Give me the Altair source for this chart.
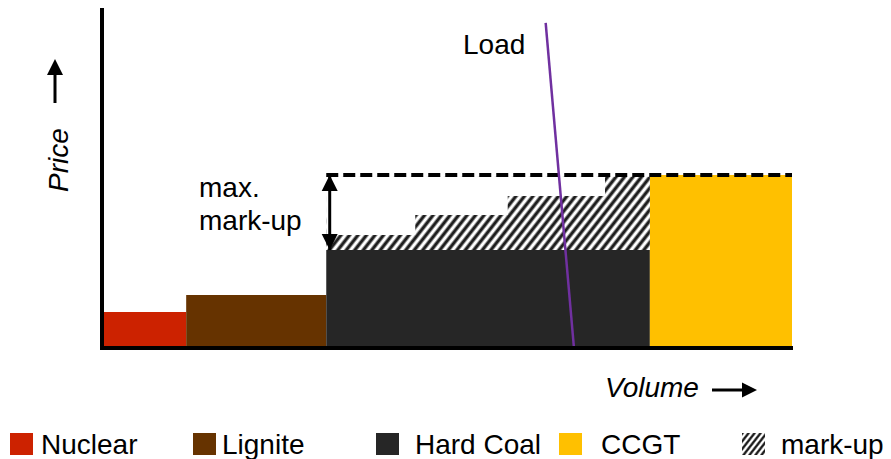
import math
import altair as alt
import pandas as pd

# ---------------- data ----------------
plants = ["Nuclear", "Lignite", "Hard Coal", "CCGT"]
cap_start = [0.0, 12.2, 32.5, 79.4]          # cumulative volume where each block starts
cap_end = [12.2, 32.5, 79.4, 100.0]          # cumulative volume where each block ends
marginal_cost = [10.6, 15.6, 28.8, 50.9]     # price level of each block
plant_colors = ["#CC2200", "#663300", "#262626", "#FFC000"]

markup_start = [32.5, 45.4, 58.8, 72.9]
markup_end = [45.4, 58.8, 72.9, 79.4]
markup_price = [33.2, 39.1, 44.7, 50.4]

load_volume = [64.3, 68.4]
load_price = [95.6, 0.0]

legend_labels = ["Nuclear", "Lignite", "Hard Coal", "CCGT", "mark-up"]

# ---------------- layout / style ----------------
W, H = 690, 340            # plot area in px
OX, OY = 102, 8            # page position of plot area's top-left corner
FONT = "Liberation Sans"
FS = 28
DARK, LIGHT = "#1e1e1e", "#ffffff"

legend_square_x = [10, 193, 376, 559, 742]
legend_text_x = [41, 222, 415, 601, 781]


def px(v):
    return v - OX


def py(v):
    return v - OY


def hatch(wp, hp, period=8.5, theta=52):
    s, c = math.sin(math.radians(theta)), math.cos(math.radians(theta))
    M = wp * s + hp * c
    D = (wp * s) ** 2 + (hp * c) ** 2
    k = M / D
    a, b = wp * s * k, hp * c * k
    n = M / (period * s)
    pattern = [(0.0, DARK), (0.22, DARK), (0.5, LIGHT), (0.72, LIGHT)]
    stops = []
    i = 0
    while i <= n + 1:
        for frac, col in pattern:
            off = (i + frac) / n
            if off <= 1:
                stops.append({"offset": round(off, 5), "color": col})
        i += 1
    return {"gradient": "linear", "x1": 0, "y1": 0, "x2": a, "y2": b, "stops": stops}


xs = alt.Scale(domain=[0, 100], nice=False, zero=False)
ys = alt.Scale(domain=[0, 100], nice=False, zero=False)
one = pd.DataFrame({"k": [0]})

# ---------------- supply blocks ----------------
bars_df = pd.DataFrame({"plant": plants, "x0": cap_start, "x1": cap_end,
                        "price": marginal_cost, "base": [0.0] * 4})
bars = alt.Chart(bars_df).mark_rect().encode(
    x=alt.X("x0:Q", scale=xs, axis=None), x2="x1",
    y=alt.Y("price:Q", scale=ys, axis=None), y2="base",
    color=alt.Color("plant:N", scale=alt.Scale(domain=plants, range=plant_colors), legend=None),
)

# ---------------- mark-up (hatched) ----------------
mk_top = max(markup_price)
hatch_df = pd.DataFrame({"x0": [markup_start[0]], "x1": [markup_end[-1]],
                         "y0": [marginal_cost[2]], "y1": [mk_top]})
wp = (markup_end[-1] - markup_start[0]) * W / 100
hp = (mk_top - marginal_cost[2]) * H / 100
hatch_bg = alt.Chart(hatch_df).mark_rect(color=hatch(wp, hp)).encode(
    x=alt.X("x0:Q", scale=xs), x2="x1", y=alt.Y("y0:Q", scale=ys), y2="y1")

# white covers above each mark-up step (all start at the left edge, so no seams)
cover_df = pd.DataFrame({"x0": [markup_start[0]] * len(markup_end), "x1": markup_end,
                         "y0": markup_price, "y1": [mk_top] * len(markup_price)})
covers = alt.Chart(cover_df).mark_rect(color="white").encode(
    x=alt.X("x0:Q", scale=xs), x2="x1", y=alt.Y("y0:Q", scale=ys), y2="y1")

# ---------------- max level dashed line & arrow ----------------
dash_df = pd.DataFrame({"x0": [cap_start[2]], "x1": [cap_end[3]], "y": [marginal_cost[3]]})
dash = alt.Chart(dash_df).mark_rule(color="black", strokeWidth=4, strokeDash=[12, 5]).encode(
    x=alt.X("x0:Q", scale=xs), x2="x1", y=alt.Y("y:Q", scale=ys))

arrow_df = pd.DataFrame({"x": [33.0], "y0": [marginal_cost[2]], "y1": [marginal_cost[3]]})
shaft = alt.Chart(arrow_df).mark_rule(color="black", strokeWidth=3).encode(
    x=alt.X("x:Q", scale=xs), y=alt.Y("y0:Q", scale=ys), y2="y1")
head_up = alt.Chart(arrow_df).mark_point(shape="M0,0L1,2L-1,2Z", filled=True, opacity=1,
                                         color="black", size=256, strokeWidth=0).encode(
    x=alt.X("x:Q", scale=xs), y=alt.Y("y1:Q", scale=ys))
head_dn = alt.Chart(arrow_df).mark_point(shape="M0,0L1,-2L-1,-2Z", filled=True, opacity=1,
                                         color="black", size=256, strokeWidth=0).encode(
    x=alt.X("x:Q", scale=xs), y=alt.Y("y0:Q", scale=ys))

# ---------------- load ----------------
load_df = pd.DataFrame({"v": load_volume, "p": load_price, "o": [0, 1]})
load = alt.Chart(load_df).mark_line(color="#7030A0", strokeWidth=2.5).encode(
    x=alt.X("v:Q", scale=xs), y=alt.Y("p:Q", scale=ys), order="o:O")

# ---------------- axes lines ----------------
yaxis = alt.Chart(one).mark_rule(color="black", strokeWidth=4).encode(
    x=alt.value(0), y=alt.value(0), y2=alt.value(H + 2))
xaxis = alt.Chart(one).mark_rule(color="black", strokeWidth=4).encode(
    x=alt.value(-2), x2=alt.value(W + 1), y=alt.value(H))


def text(t, x, y, **kw):
    opts = dict(text=t, font=FONT, fontSize=FS, color="black", align="left", baseline="alphabetic")
    opts.update(kw)
    return alt.Chart(one).mark_text(**opts).encode(x=alt.value(px(x)), y=alt.value(py(y)))


def head(path, x, y, size):
    return alt.Chart(one).mark_point(shape=path, filled=True, opacity=1, color="black",
                                     size=size, strokeWidth=0).encode(
        x=alt.value(px(x)), y=alt.value(py(y)))


def seg(x1, y1, x2, y2, w=3):
    return alt.Chart(one).mark_rule(color="black", strokeWidth=w).encode(
        x=alt.value(px(x1)), y=alt.value(py(y1)), x2=alt.value(px(x2)), y2=alt.value(py(y2)))


labels = [
    text("Load", 463, 54),
    text("max.", 199, 197),
    text("mark-up", 199, 230),
    text("Volume", 605, 397, fontStyle="italic"),
    text("Price", 68, 160, fontStyle="italic", angle=270, align="center"),
    seg(712, 390, 745, 390),
    head("M0,0L-2,1L-2,-1Z", 757, 390, 225),
    seg(55, 103, 55, 70),
    head("M0,0L1,2L-1,2Z", 55, 59, 256),
]

# ---------------- legend ----------------
leg_df = pd.DataFrame({
    "label": legend_labels[:4],
    "col": plant_colors,
    "sx": [px(v) for v in legend_square_x[:4]],
    "sx2": [px(v + 23) for v in legend_square_x[:4]],
})
leg_sq = alt.Chart(leg_df).mark_rect().encode(
    x=alt.X("sx:Q", scale=None), x2="sx2:Q",
    y=alt.value(py(433)), y2=alt.value(py(455)),
    color=alt.Color("col:N", scale=None))
leg_hatch = alt.Chart(one).mark_rect(color=hatch(23, 22, period=6.0)).encode(
    x=alt.value(px(legend_square_x[4])), x2=alt.value(px(legend_square_x[4] + 23)),
    y=alt.value(py(433)), y2=alt.value(py(455)))
leg_txt_df = pd.DataFrame({"label": legend_labels, "tx": [px(v) for v in legend_text_x]})
leg_txt = alt.Chart(leg_txt_df).mark_text(font=FONT, fontSize=FS, align="left",
                                          baseline="alphabetic", color="black").encode(
    x=alt.X("tx:Q", scale=None), y=alt.value(py(454)), text="label:N")

chart = alt.layer(
    bars, hatch_bg, covers, dash, load, shaft, head_up, head_dn,
    yaxis, xaxis, *labels, leg_sq, leg_hatch, leg_txt,
).properties(
    width=W, height=H,
    padding={"left": 94, "top": 0, "right": 91, "bottom": 111},
    autosize=alt.AutoSizeParams(type="none"),
    background="white",
).configure_view(stroke=None)

chart.save("out.html", embed_options={"renderer": "svg", "actions": False})
